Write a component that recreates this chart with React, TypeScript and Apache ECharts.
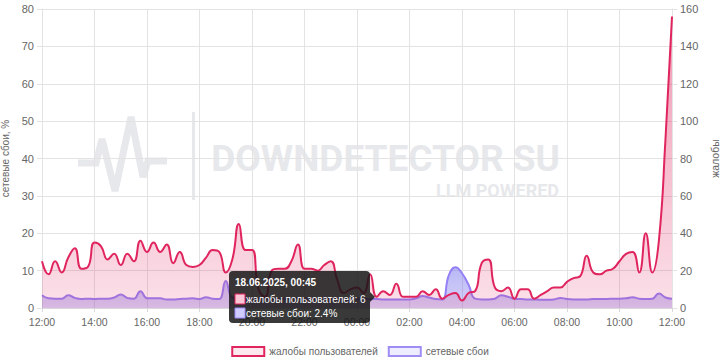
import React, { useEffect, useRef } from "react";
import * as echarts from "echarts";

// 15-minute slots from 17.06.2025 12:00 to 18.06.2025 12:00
const timeSlots: string[] = (() => {
  const out: string[] = [];
  for (let i = 0; i <= 96; i++) {
    const m = 12 * 60 + i * 15;
    const h = Math.floor(m / 60) % 24;
    const mm = m % 60;
    out.push(`${String(h).padStart(2, "0")}:${String(mm).padStart(2, "0")}`);
  }
  return out;
})();

const complaints: number[] = [
  25, 18, 25, 19, 27, 32, 21, 22, 35, 33,
  26, 29, 23, 29, 25, 36, 30, 35, 30, 34,
  24, 30, 23, 22, 23, 27, 31, 30, 19, 26,
  45, 31, 31, 10, 6, 20, 21, 21, 25, 34,
  21, 21, 20, 23, 25, 15, 8, 10, 11, 8,
  18, 6, 9, 7, 13, 6, 6, 6, 9, 7,
  10, 5, 7, 8, 4, 8, 9, 24, 26, 11,
  9, 11, 5, 10, 10, 5, 7, 9, 11, 11,
  14, 16, 17, 28, 19, 18, 20, 21, 25, 29,
  30, 19, 40, 19, 36, 90, 156,
];

const outages: number[] = [
  3.4, 2.6, 2.5, 2.5, 3.4, 2.7, 2.4, 2.5, 2.4, 2.5,
  2.5, 2.8, 3.6, 2.7, 2.5, 4.5, 2.6, 2.6, 2.6, 2.3,
  2.3, 2.4, 2.5, 2.6, 2.4, 2.9, 2.5, 2.4, 7.2, 2.8,
  2.6, 2.5, 2.4, 2.4, 2.5, 2.5, 2.4, 2.4, 2.5, 2.6,
  2.5, 2.4, 2.4, 2.5, 2.5, 2.4, 2.4, 2.5, 2.5, 2.4,
  2.4, 2.4, 2.3, 2.3, 2.3, 2.3, 2.3, 2.6, 3.2, 2.8,
  2.4, 2.3, 8.8, 10.9, 9.3, 6.2, 2.5, 2.3, 2.3, 2.5,
  3.4, 3.0, 2.5, 2.4, 2.3, 2.3, 2.2, 2.2, 2.3, 2.7,
  2.4, 2.3, 2.3, 2.3, 2.4, 2.4, 2.4, 2.5, 2.5, 2.6,
  2.9, 2.5, 2.4, 2.5, 3.9, 2.8, 2.5,
];

const seriesNames = ["жалобы пользователей", "сетевые сбои"];
const leftAxisName = "сетевые сбои, %";
const rightAxisName = "жалобы";
const tooltipIndex = 51;
const tooltipDate = "18.06.2025";

const FONT = "Liberation Sans";
const PINK = "#e0245e";
const PURPLE = "#9580f5";
const WM = "#e7e8eb";

export default function App() {
  const ref = useRef<HTMLDivElement>(null);
  useEffect(() => {
    document.body.style.margin = "0";
    if (!ref.current) return;
    const chart = echarts.init(ref.current, undefined, { renderer: "svg" });
    const option: any = {
      animation: false,
      grid: { left: 42, right: 48, top: 9, bottom: 52, containLabel: false, outerBoundsMode: "none" },
      legend: {
        top: 341,
        left: "center",
        icon: "rect",
        itemWidth: 32,
        itemHeight: 9,
        itemGap: 10,
        selectedMode: false,
        textStyle: { color: "#666", fontSize: 10, fontFamily: FONT },
        data: [
          { name: seriesNames[0], itemStyle: { color: "#fde8ef", borderColor: PINK, borderWidth: 2 } },
          { name: seriesNames[1], itemStyle: { color: "#eeedff", borderColor: "#a08cf5", borderWidth: 2 } },
        ],
      },
      xAxis: {
        type: "category",
        boundaryGap: false,
        data: timeSlots,
        axisLine: { show: true, lineStyle: { color: "#d9d9d9" } },
        axisTick: { show: true, interval: 7, length: 4, lineStyle: { color: "#d9d9d9" } },
        axisLabel: { interval: 7, color: "#666", fontSize: 10.5, fontFamily: FONT, margin: 8 },
        splitLine: { show: true, interval: 7, lineStyle: { color: "#e3e3e3" } },
      },
      yAxis: [
        {
          type: "value",
          min: 0,
          max: 80,
          interval: 10,
          position: "left",
          name: leftAxisName,
          nameLocation: "middle",
          nameGap: 25,
          nameTextStyle: { color: "#666", fontSize: 10, fontFamily: FONT },
          axisLine: { show: true, lineStyle: { color: "#e3e3e3" } },
          axisTick: { show: true, length: 5, lineStyle: { color: "#e3e3e3" } },
          axisLabel: { color: "#666", fontSize: 11, fontFamily: FONT, margin: 8 },
          splitLine: { show: true, lineStyle: { color: "#e3e3e3" } },
        },
        {
          type: "value",
          min: 0,
          max: 160,
          interval: 20,
          position: "right",
          name: rightAxisName,
          nameLocation: "middle",
          nameGap: 31,
          nameTextStyle: { color: "#666", fontSize: 10.5, fontFamily: FONT },
          axisLine: { show: true, lineStyle: { color: "#e3e3e3" } },
          axisTick: { show: true, length: 5, lineStyle: { color: "#e3e3e3" } },
          axisLabel: { color: "#666", fontSize: 11, fontFamily: FONT, margin: 8 },
          splitLine: { show: false },
        },
      ],
      series: [
        {
          name: seriesNames[0],
          type: "line",
          yAxisIndex: 1,
          data: complaints,
          smooth: true,
          symbol: "none",
          silent: true,
          z: 3,
          color: PINK,
          lineStyle: { color: PINK, width: 2 },
          areaStyle: {
            color: new echarts.graphic.LinearGradient(0, 0, 0, 1, [
              { offset: 0, color: "rgba(224,36,94,0.66)" },
              { offset: 1, color: "rgba(224,36,94,0.2)" },
            ]),
          },
          emphasis: { disabled: true },
        },
        {
          name: seriesNames[1],
          type: "line",
          yAxisIndex: 0,
          data: outages,
          smooth: true,
          symbol: "none",
          silent: true,
          z: 2,
          color: PURPLE,
          lineStyle: { color: PURPLE, width: 2 },
          areaStyle: {
            color: new echarts.graphic.LinearGradient(0, 0, 0, 1, [
              { offset: 0, color: "rgba(100,100,235,0.65)" },
              { offset: 1, color: "rgba(110,95,230,0.4)" },
            ]),
          },
          emphasis: { disabled: true },
        },
      ],
      graphic: [
        {
          type: "polyline",
          z: -10,
          silent: true,
          shape: {
            points: [[78, 163], [96, 163], [102, 139], [115, 191], [131, 117], [143, 177], [148, 161], [167, 161]],
          },
          style: { stroke: WM, lineWidth: 7, fill: null, lineJoin: "miter", miterLimit: 4 },
        },
        {
          type: "rect",
          z: -10,
          silent: true,
          shape: { x: 192, y: 112, width: 3, height: 88 },
          style: { fill: WM },
        },
        {
          type: "text",
          z: -10,
          silent: true,
          x: 560,
          y: 158,
          style: { text: "DOWNDETECTOR SU", font: "bold 37px Roboto", fill: WM, align: "right", verticalAlign: "middle" },
        },
        {
          type: "text",
          z: -10,
          silent: true,
          x: 559,
          y: 190,
          style: { text: "LLM POWERED", font: "bold 18px Roboto", fill: WM, align: "right", verticalAlign: "middle" },
        },
        // tooltip
        {
          type: "rect",
          z: 100,
          shape: { x: 229, y: 271, width: 141, height: 52, r: 4 },
          style: { fill: "rgba(22,22,22,0.85)" },
        },
        {
          type: "polygon",
          z: 100,
          shape: { points: [[370, 292], [375, 297], [370, 302]] },
          style: { fill: "rgba(22,22,22,0.85)" },
        },
        {
          type: "text",
          z: 101,
          x: 235,
          y: 282,
          style: {
            text: `${tooltipDate}, ${timeSlots[tooltipIndex]}`,
            font: `bold 10px ${FONT}`,
            fill: "#fff",
            verticalAlign: "middle",
          },
        },
        {
          type: "rect",
          z: 101,
          shape: { x: 235, y: 294, width: 10, height: 10 },
          style: { fill: "#f8c6d5", stroke: PINK, lineWidth: 1 },
        },
        {
          type: "text",
          z: 101,
          x: 246,
          y: 299,
          style: {
            text: `${seriesNames[0]}: ${complaints[tooltipIndex]}`,
            font: `10px ${FONT}`,
            fill: "#fff",
            verticalAlign: "middle",
          },
        },
        {
          type: "rect",
          z: 101,
          shape: { x: 235, y: 308, width: 10, height: 10 },
          style: { fill: "#cfcdff", stroke: "#a08cf5", lineWidth: 1 },
        },
        {
          type: "text",
          z: 101,
          x: 246,
          y: 313,
          style: {
            text: `${seriesNames[1]}: ${outages[tooltipIndex]}%`,
            font: `10px ${FONT}`,
            fill: "#fff",
            verticalAlign: "middle",
          },
        },
      ],
    };
    chart.setOption(option);
    return () => chart.dispose();
  }, []);
  return <div ref={ref} style={{ width: 720, height: 360 }} />;
}
